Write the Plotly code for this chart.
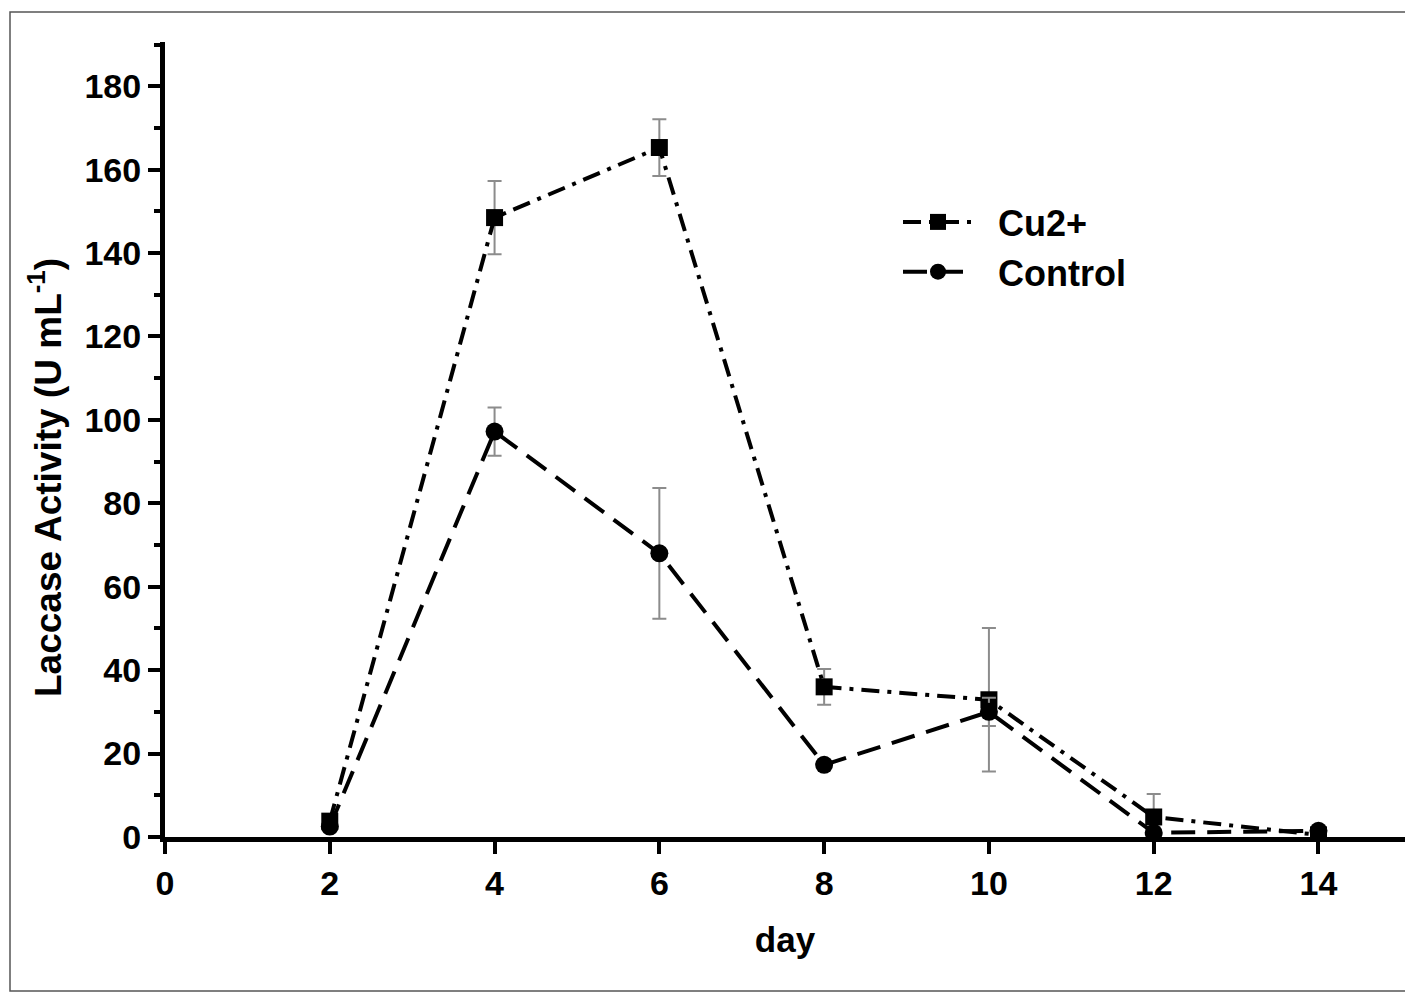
import plotly.graph_objects as go

days = [2, 4, 6, 8, 10, 12, 14]
cu_vals = [3.8, 148.5, 165.3, 36.0, 32.9, 4.8, 0.5]
cu_err = [1.0, 8.8, 6.8, 4.3, 17.2, 5.5, 0.3]
ctrl_vals = [2.5, 97.2, 68.0, 17.3, 30.0, 1.0, 1.5]
ctrl_err = [0.5, 5.8, 15.7, 0.5, 3.4, 0.5, 0.3]

x_ticks = [0, 2, 4, 6, 8, 10, 12, 14]
y_ticks = [0, 20, 40, 60, 80, 100, 120, 140, 160, 180]

# the page body has an 8px margin; work in reference pixel coords and shift
OFF = 8
W, H = 1413 - OFF, 994 - OFF
PX0, PX1 = 165, 1405      # plot area left/right in reference pixels
PY0, PY1 = 42, 837        # plot area top/bottom in reference pixels
L = PX0 - OFF
T = PY0 - OFF
R = W - (PX1 - OFF)
B = H - (PY1 - OFF)
pw, ph = W - L - R, H - T - B


def px(xr):
    return (xr - PX0) / pw


def py(yr):
    return (PY1 - yr) / ph


fnt = "Liberation Sans, Arial, sans-serif"
NB = "\u00a0\u00a0"

fig = go.Figure()
fig.add_trace(go.Scatter(
    x=days, y=cu_vals, name=NB + "Cu2+", mode="lines+markers",
    line=dict(color="black", width=4, dash="18px,8px,4px,8px"),
    marker=dict(symbol="square", size=17, color="black"),
    error_y=dict(type="data", array=cu_err, color="#8c8c8c", thickness=2, width=7),
))
fig.add_trace(go.Scatter(
    x=days, y=ctrl_vals, name=NB + "Control", mode="lines+markers",
    line=dict(color="black", width=4, dash="24px,12px"),
    marker=dict(symbol="circle", size=18, color="black"),
    error_y=dict(type="data", array=ctrl_err, color="#8c8c8c", thickness=2, width=7),
))

axis_common = dict(
    showline=True, linecolor="black", linewidth=5,
    ticks="outside", ticklen=12, tickwidth=4, tickcolor="black",
    showgrid=False, zeroline=False, mirror=False,
    tickfont=dict(family=fnt, size=34, color="black", weight="bold"),
)

fig.update_xaxes(range=[0, 15.05], tickvals=x_ticks, ticktext=[str(v) for v in x_ticks],
                 title=dict(text="day", font=dict(family=fnt, size=35, color="black", weight="bold"),
                            standoff=28),
                 **axis_common)
fig.update_yaxes(range=[0, 190.6], tickvals=y_ticks, ticktext=[str(v) for v in y_ticks],
                 minor=dict(dtick=10, tick0=0, ticks="outside", ticklen=6, tickwidth=4,
                            tickcolor="black", showgrid=False),
                 **axis_common)

fig.add_annotation(
    text="Laccase Activity (U mL<sup>-1</sup>)", textangle=-90,
    xref="paper", yref="paper", x=px(45), y=py(478),
    showarrow=False, xanchor="center", yanchor="middle",
    font=dict(family=fnt, size=37, color="black", weight="bold"),
)

fig.add_shape(type="rect", xref="paper", yref="paper",
              x0=px(10), x1=px(1409), y0=py(991), y1=py(12),
              line=dict(color="#555555", width=1.5), layer="below")

fig.update_layout(
    width=W, height=H,
    margin=dict(l=L, r=R, t=T, b=B, pad=0),
    paper_bgcolor="white", plot_bgcolor="white",
    showlegend=True,
    legend=dict(x=px(898), y=py(192), xanchor="left", yanchor="top",
                font=dict(family=fnt, size=36, color="black", weight="bold"),
                bgcolor="rgba(0,0,0,0)", itemwidth=70, tracegroupgap=0),
)

fig.write_html("out.html")
